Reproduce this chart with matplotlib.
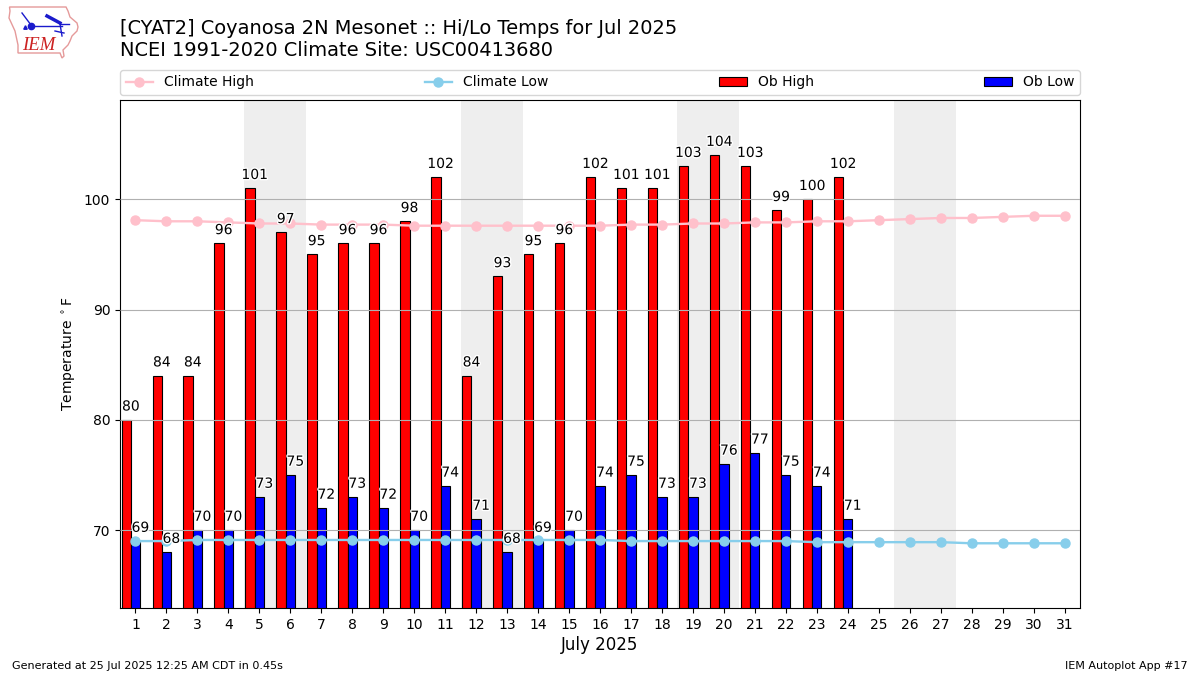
import matplotlib
matplotlib.use("Agg")
import matplotlib.pyplot as plt
import matplotlib.patheffects as pe

days = list(range(1, 32))
ob_days = list(range(1, 25))
ob_high = [80, 84, 84, 96, 101, 97, 95, 96, 96, 98, 102, 84, 93, 95, 96, 102,
           101, 101, 103, 104, 103, 99, 100, 102]
ob_low = [69, 68, 70, 70, 73, 75, 72, 73, 72, 70, 74, 71, 68, 69, 70, 74,
          75, 73, 73, 76, 77, 75, 74, 71]
climate_high = [98.1, 98.0, 98.0, 97.9, 97.8, 97.8, 97.7, 97.7, 97.7, 97.6, 97.6,
                97.6, 97.6, 97.6, 97.6, 97.6, 97.7, 97.7, 97.8, 97.8, 97.9, 97.9,
                98.0, 98.0, 98.1, 98.2, 98.3, 98.3, 98.4, 98.5, 98.5]
climate_low = [69.0, 69.0, 69.1, 69.1, 69.1, 69.1, 69.1, 69.1, 69.1, 69.1, 69.1,
               69.1, 69.1, 69.1, 69.1, 69.1, 69.0, 69.0, 69.0, 69.0, 69.0, 69.0,
               68.9, 68.9, 68.9, 68.9, 68.9, 68.8, 68.8, 68.8, 68.8]
weekends = [(5, 6), (12, 13), (19, 20), (26, 27)]

# logo shapes, in figure pixels
iowa = [(9.5, 7), (66, 7), (68, 11), (70, 17), (77, 23), (78, 27), (77, 31), (72, 36),
        (70, 41), (68, 45), (63, 50), (64, 56), (62, 58), (60, 53), (18, 53), (18, 45),
        (15, 31), (9, 18), (10, 11)]
logo_thin = [[(31, 26), (62, 26)], [(31, 25), (22, 13)], [(60, 24), (62, 36)],
             [(55, 31), (64, 33)], [(60, 24), (69, 24)]]
logo_wing = [(47, 16), (60, 23)]

fig = plt.figure(figsize=(12, 6.75), dpi=100)
ax = fig.add_axes([120 / 1200, 1 - 608 / 675, 960 / 1200, 508 / 675])
width = 0.3

for start, end in weekends:
    ax.axvspan(start - 0.5, end + 0.5, color="#eeeeee", lw=0, zorder=1)

ax.bar([d - width for d in ob_days], ob_high, width, color="red", edgecolor="black",
       linewidth=0.8, label="Ob High", zorder=2)
ax.bar(ob_days, ob_low, width, color="blue", edgecolor="black",
       linewidth=0.8, label="Ob Low", zorder=2)
ax.grid(axis="y", color="#b0b0b0", lw=0.8, zorder=3)
ax.set_axisbelow(False)
ax.xaxis.grid(False)

ax.plot(days, climate_high, color="pink", marker="o", ms=6.5, lw=1.7, label="Climate High", zorder=4)
ax.plot(days, climate_low, color="skyblue", marker="o", ms=6.5, lw=1.7, label="Climate Low", zorder=4)

stroke = [pe.withStroke(linewidth=2, foreground="white")]
for d, val in zip(ob_days, ob_high):
    ax.annotate(str(val), (d - 0.15, val), xytext=(0, 4.5), textcoords="offset points",
                ha="center", va="bottom", fontsize=10, zorder=5, path_effects=stroke)
for d, val in zip(ob_days, ob_low):
    ax.annotate(str(val), (d + 0.16, val), xytext=(0, 4.5), textcoords="offset points",
                ha="center", va="bottom", fontsize=10, zorder=5, path_effects=stroke)

ax.set_xlim(0.5, 31.5)
ax.set_ylim(62.93, 109)
ax.set_xticks(days)
ax.set_yticks([70, 80, 90, 100])
ax.tick_params(labelsize=10)
ax.set_xlabel("July 2025", fontsize=12, labelpad=3)
ax.set_ylabel(r"Temperature $^\circ$F", fontsize=10, labelpad=4)

handles, labels = ax.get_legend_handles_labels()
order = [labels.index(n) for n in ["Climate High", "Climate Low", "Ob High", "Ob Low"]]
ax.legend([handles[i] for i in order], [labels[i] for i in order], ncol=4, mode="expand",
          loc="lower left", bbox_to_anchor=(0, 1.0098, 1, 0.05), borderaxespad=0, fontsize=10)

fig.text(120 / 1200, 1 - 29 / 675, "[CYAT2] Coyanosa 2N Mesonet :: Hi/Lo Temps for Jul 2025",
         fontsize=13.98, va="center")
fig.text(120 / 1200, 1 - 50 / 675, "NCEI 1991-2020 Climate Site: USC00413680", fontsize=13.98, va="center")
fig.text(12 / 1200, 1 - 666 / 675, "Generated at 25 Jul 2025 12:25 AM CDT in 0.45s", fontsize=8, va="center")
fig.text(1188 / 1200, 1 - 666 / 675, "IEM Autoplot App #17", fontsize=8, va="center", ha="right")

# logo
logo = fig.add_axes([0, 0, 1, 1], facecolor="none")
logo.set_xlim(0, 1200)
logo.set_ylim(675, 0)
logo.axis("off")
logo.fill(*zip(*iowa), facecolor="white", edgecolor="#e59a9a", lw=1)
for seg in logo_thin:
    logo.plot(*zip(*seg), color="#1a1acc", lw=1)
logo.plot(*zip(*logo_wing), color="#1a1acc", lw=2.5)
logo.plot([31], [26], "o", color="#1a1acc", ms=4.5)
logo.plot([25], [27], "^", color="#1a1acc", ms=2.5)
logo.text(22.5, 45, "IEM", color="#cc2222", fontsize=13.5, family="Liberation Serif", style="italic", va="center")

fig.savefig("out.png", dpi=100)
